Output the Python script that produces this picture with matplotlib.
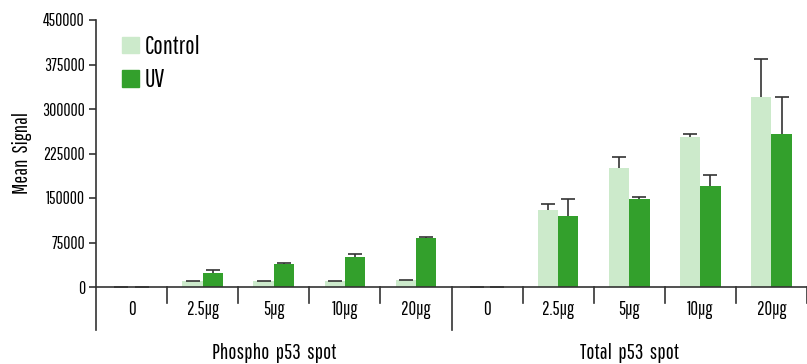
import matplotlib
matplotlib.use("Agg")
import matplotlib.pyplot as plt
import numpy as np
from matplotlib.patches import Patch

categories = ["0", "2.5µg", "5µg", "10µg", "20µg", "0", "2.5µg", "5µg", "10µg", "20µg"]
groups = ["Phospho  p53  spot", "Total  p53  spot"]
control = [0, 10000, 10000, 10000, 12300, 0, 129800, 200600, 253400, 320200]
control_err = [0, 300, 300, 300, 300, 0, 9600, 18500, 5000, 64600]
uv = [0, 24000, 39300, 51100, 83100, 0, 119700, 148300, 170200, 257900]
uv_err = [0, 4000, 700, 4500, 600, 0, 28600, 3400, 18000, 62300]
yticks = [0, 75000, 150000, 225000, 300000, 375000, 450000]

c_ctrl = "#cceacb"
c_uv = "#33a02c"
ecol = "#333333"

plt.rcParams['font.family'] = ['Pathway Gothic One', 'Cabin Condensed', 'DejaVu Sans']

fig = plt.figure(figsize=(8.07, 3.64), dpi=100)
W, H = 807, 364
ax = fig.add_axes([96 / W, (H - 287) / H, 711 / W, 267 / H])

x = np.arange(len(categories)) + 0.5
bw = 0.285
ax.bar(x - bw / 2, control, bw, color=c_ctrl, zorder=2)
ax.bar(x + bw / 2, uv, bw, color=c_uv, zorder=2)
for xs, vals, errs in [(x - bw / 2, control, control_err), (x + bw / 2, uv, uv_err)]:
    eb = ax.errorbar(xs, vals, yerr=[np.zeros(len(vals)), errs],
                     fmt='none', ecolor=ecol, elinewidth=1.2, capsize=4.7, capthick=1.2, zorder=3)
    caps = eb[1]
    if len(caps) == 2:
        caps[0].set_visible(False)

ax.set_xlim(0, len(categories))
ax.set_ylim(0, 450000)
ax.set_yticks(yticks)
ax.set_yticklabels([str(v) for v in yticks], fontsize=12.5)
ax.tick_params(axis='y', length=5, width=1.2, color=ecol, pad=3)
ax.set_xticks([])
for s in ['top', 'right']:
    ax.spines[s].set_visible(False)
for s in ['left', 'bottom']:
    ax.spines[s].set_linewidth(1.2)
    ax.spines[s].set_color(ecol)

# extended left axis and separators
ax.plot([0, 0], [-72500, 0], color=ecol, lw=1.2, clip_on=False)
for k in range(1, len(categories) + 1):
    low = -72500 if k == 5 else -27000
    ax.plot([k, k], [low, 0], color=ecol, lw=1.2, clip_on=False)

for xi, lab in zip(x, categories):
    ax.text(xi, -38000, lab, ha='center', va='center', fontsize=13.5)

for gi, g in enumerate(groups):
    ax.text(2.5 + 5 * gi, -111000, g, ha='center', va='center', fontsize=15.5)

ax.set_ylabel("Mean  Signal", fontsize=15, labelpad=7)

handles = [Patch(color=c_ctrl, label="Control"), Patch(color=c_uv, label="UV")]
ax.legend(handles=handles, loc='upper left', bbox_to_anchor=(0.037, 0.945), frameon=False,
          fontsize=18, handlelength=0.65, handleheight=0.65, handletextpad=0.25,
          labelspacing=0.38, borderpad=0, borderaxespad=0)

fig.savefig("out.png", dpi=100)
